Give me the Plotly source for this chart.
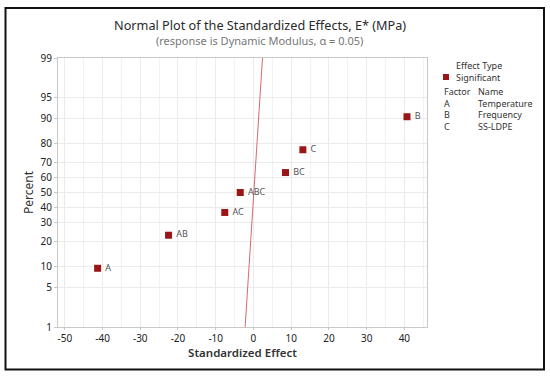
import plotly.graph_objects as go
from statistics import NormalDist

# ---- data ----
effect_labels = ["A", "AB", "AC", "ABC", "BC", "C", "B"]
effect_values = [-41.3, -22.5, -7.6, -3.5, 8.5, 13.1, 40.7]
effect_percent = [9.5, 23.0, 36.5, 50.0, 63.5, 77.0, 90.5]

ref_line_x = [-2.2, 2.4]
ref_line_percent = [1, 99]

y_tick_percent = [1, 5, 10, 20, 30, 40, 50, 60, 70, 80, 90, 95, 99]
x_tick_values = [-50, -40, -30, -20, -10, 0, 10, 20, 30, 40]
x_tick_labels = ["-50", "-40", "-30", "-20", "-10", "0", "10", "20", "30", "40"]

factor_codes = ["A", "B", "C"]
factor_names = ["Temperature", "Frequency", "SS-LDPE"]

nd = NormalDist()
def z(p):
    return nd.inv_cdf(p / 100.0)

FONT = "Noto Sans"
W, H = 550, 378
L, R, T, B = 58, 123, 58, 51
PW, PH = W - L - R, H - T - B

def px(xp):
    return (xp - L) / PW
def py(yp):
    return (H - B - yp) / PH

fig = go.Figure()

fig.add_trace(go.Scatter(
    x=ref_line_x, y=[z(p) for p in ref_line_percent],
    mode="lines", line=dict(color="#d86a6a", width=1),
    hoverinfo="skip", showlegend=False))

fig.add_trace(go.Scatter(
    x=effect_values, y=[z(p) for p in effect_percent],
    mode="markers+text", text=[" " + t for t in effect_labels],
    textposition="middle right",
    textfont=dict(family=FONT, size=9, color="#555555"),
    marker=dict(symbol="square", size=7, color="#9a1616"),
    showlegend=False))

def note(text, x, y, size, color="#333333", xanchor="left", yanchor="middle"):
    return dict(text=text, x=px(x), y=py(y), xref="paper", yref="paper",
                xanchor=xanchor, yanchor=yanchor, showarrow=False, align="left",
                font=dict(family=FONT, size=size, color=color))

ann = []
ann.append(note("Normal Plot of the Standardized Effects, E* (MPa)", 260, 25, 12.7,
                "#2a2a2a", "center"))
ann.append(note("(response is Dynamic Modulus, \u03b1 = 0.05)", 259, 40, 11,
                "#777777", "center"))

LS = 9
ann.append(note("Effect Type<br>Significant", 454, 71, LS))
ann.append(note("<br>".join(["Factor"] + factor_codes), 442, 109, LS))
ann.append(note("<br>".join(["Name"] + factor_names), 476, 109, LS))

shapes = [
    dict(type="rect", xref="paper", yref="paper",
         x0=px(443), x1=px(449), y0=py(74), y1=py(80),
         fillcolor="#9a1616", line=dict(width=0)),
    dict(type="rect", xref="paper", yref="paper",
         x0=px(5.5), x1=px(544), y0=py(8), y1=py(369.5),
         line=dict(color="#111111", width=2), fillcolor="rgba(0,0,0,0)"),
]

fig.update_layout(
    width=W, height=H,
    margin=dict(l=L, r=R, t=T, b=B),
    paper_bgcolor="white", plot_bgcolor="white",
    annotations=ann, shapes=shapes,
    font=dict(family=FONT, color="#333333"),
)

fig.update_xaxes(
    range=[-51.8, 46], tickvals=x_tick_values, ticktext=x_tick_labels,
    tickfont=dict(family=FONT, size=10, color="#222222"),
    showgrid=True, gridcolor="#ebebeb", gridwidth=1,
    minor=dict(dtick=5, tick0=0, showgrid=True, gridcolor="#f2f2f2"),
    showline=True, linecolor="#c8c8c8", mirror=True,
    ticks="outside", ticklen=2, tickcolor="#c8c8c8",
    zeroline=False,
    title=dict(text="Standardized Effect", standoff=2,
               font=dict(family=FONT, size=11.5, color="#333333", weight=600)),
)
fig.update_yaxes(
    range=[z(1), z(99)],
    tickvals=[z(p) for p in y_tick_percent],
    ticktext=[str(p) for p in y_tick_percent],
    tickfont=dict(family=FONT, size=10, color="#222222"),
    showgrid=True, gridcolor="#ebebeb",
    showline=True, linecolor="#c8c8c8", mirror=True,
    ticks="outside", ticklen=3, tickcolor="#c8c8c8",
    zeroline=False,
    title=dict(text="Percent", standoff=4,
               font=dict(family=FONT, size=12, color="#333333")),
)

fig.write_html("out.html", config={"displayModeBar": False},
               post_script="document.body.style.margin='0px';")
